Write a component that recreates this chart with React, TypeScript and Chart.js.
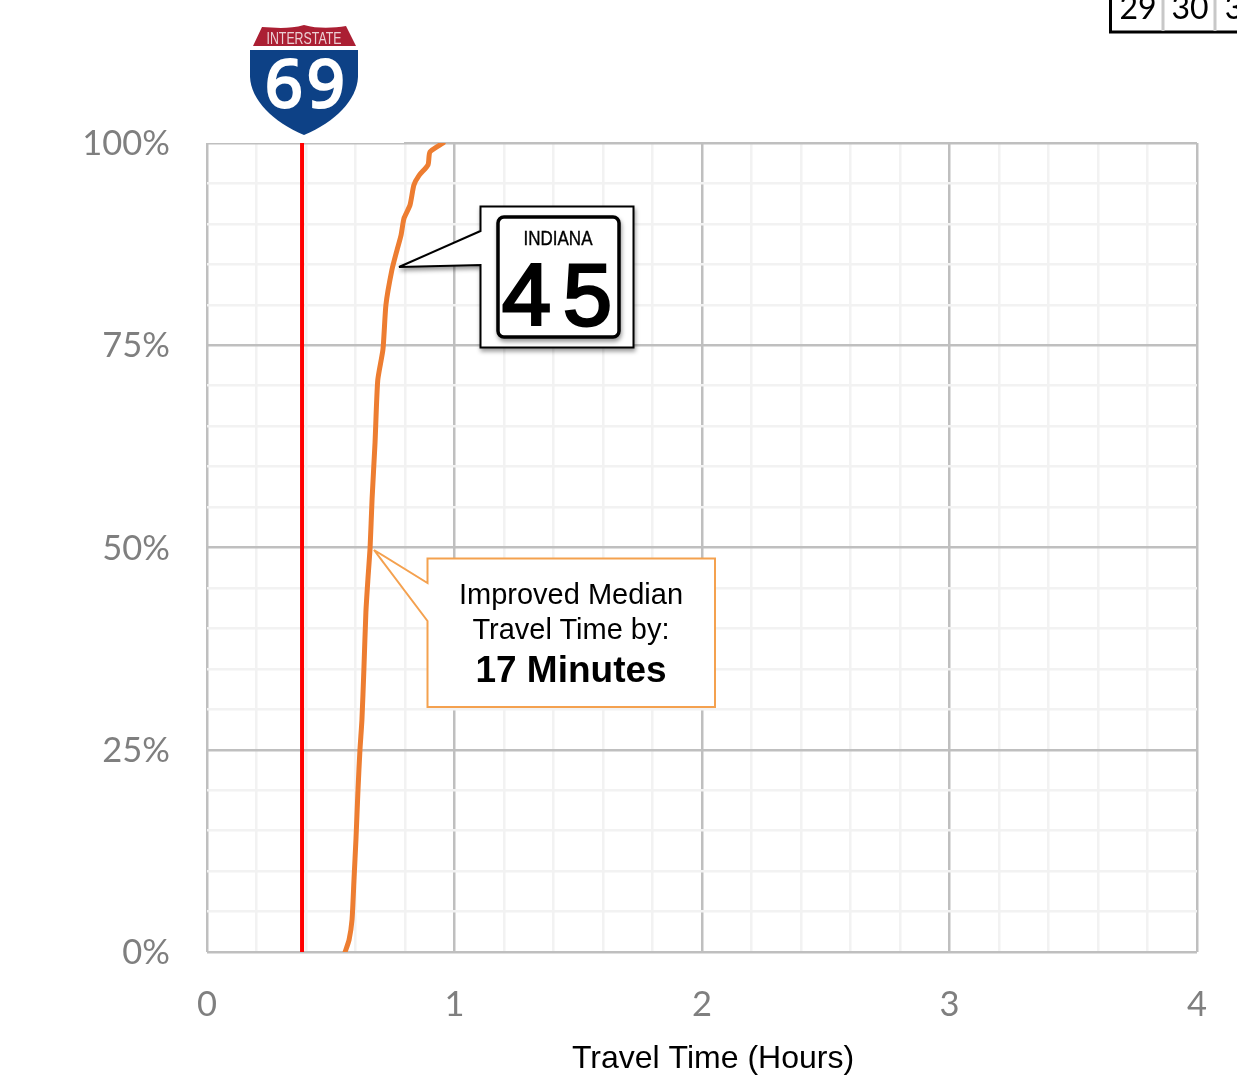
import React, { useEffect, useRef } from "react";
import { Chart, registerables } from "chart.js";

Chart.register(...registerables);

const TICK_FONT = "Lato, 'Open Sans', sans-serif";
const ARIAL = "'Liberation Sans', Arial, sans-serif";
const NARROW = "'Liberation Sans Narrow', 'Liberation Sans', sans-serif";

const i45Hours = [0.558, 0.574, 0.586, 0.594, 0.602, 0.61, 0.618, 0.626, 0.634, 0.642, 0.65, 0.659, 0.667, 0.679, 0.69, 0.711, 0.723, 0.747, 0.768, 0.784, 0.796, 0.82, 0.836, 0.857, 0.893, 0.901, 0.954];
const i45Percent = [0, 1.5, 4, 9, 14, 20, 25, 28.7, 35, 42, 46, 50, 56, 63, 70.7, 74.5, 80, 84.3, 86.8, 88.6, 90.7, 92.3, 94.8, 96, 97.3, 98.9, 100];
const i69Hours = [0.384, 0.384];
const i69Percent = [0, 100];
const tableCells = ["29", "30", "3"];
const tableCellCentres = [1138, 1190, 1234];

const isWhole = (v: number, step: number) => Math.abs(v / step - Math.round(v / step)) < 1e-6;

const nudge = {
  id: "nudge",
  afterLayout(chart: any) {
    chart.scales.x.right += 22;
  },
  beforeDraw(chart: any) {
    chart.scales.y.getLabelItems(chart.chartArea).forEach((item: any) => {
      if (!item.__moved) {
        item.textOffset += 1;
        item.__moved = true;
      }
    });
  },
};

export default function App() {
  const ref = useRef<HTMLCanvasElement | null>(null);
  useEffect(() => {
    if (!ref.current) return;
    const chart = new Chart(ref.current, {
      type: "scatter",
      data: {
        datasets: [
          {
            label: "I-69",
            data: i69Hours.map((x, i) => ({ x, y: i69Percent[i] })),
            showLine: true,
            borderColor: "#ff0000",
            borderWidth: 4,
            pointRadius: 0,
          },
          {
            label: "Indiana 45",
            data: i45Hours.map((x, i) => ({ x, y: i45Percent[i] })),
            showLine: true,
            borderColor: "#ed7d31",
            borderWidth: 5,
            borderCapStyle: "round",
            borderJoinStyle: "round",
            tension: 0.2,
            pointRadius: 0,
          },
        ],
      },
      options: {
        responsive: false,
        animation: false,
        layout: { padding: { top: 143, right: 40, left: 0, bottom: 0 } },
        plugins: { legend: { display: false }, tooltip: { enabled: false } },
        scales: {
          x: {
            type: "linear",
            min: 0,
            max: 4,
            afterFit: (s: any) => { s.height = 133; s.paddingRight = 0; s.paddingLeft = 0; },
            border: { display: false },
            grid: {
              drawTicks: false,
              lineWidth: 2.5,
              color: (c: any) => (isWhole(c.tick.value, 1) ? "#bfbfbf" : "#f2f2f2"),
            },
            ticks: {
              stepSize: 0.2,
              autoSkip: false,
              maxRotation: 0,
              padding: 32,
              color: "#7f7f7f",
              font: { family: TICK_FONT, size: 34.5 },
              callback: (v: any) => (isWhole(Number(v), 1) ? String(Math.round(Number(v))) : ""),
            },
            title: {
              display: true,
              text: "Travel Time (Hours)",
              color: "#000000",
              font: { family: ARIAL, size: 32 },
              padding: { top: 0, bottom: 7 },
            },
          },
          y: {
            type: "linear",
            min: 0,
            max: 100,
            afterFit: (s: any) => { s.width = 207; },
            border: { display: false },
            grid: {
              drawTicks: false,
              lineWidth: 2.5,
              color: (c: any) => (isWhole(c.tick.value, 25) ? "#bfbfbf" : "#f2f2f2"),
            },
            ticks: {
              stepSize: 5,
              autoSkip: false,
              padding: 37,
              color: "#7f7f7f",
              font: { family: TICK_FONT, size: 34.5 },
              callback: (v: any) => (isWhole(Number(v), 25) ? `${Math.round(Number(v))}%` : ""),
            },
          },
        },
      },
      plugins: [nudge],
    } as any);
    return () => chart.destroy();
  }, []);

  return (
    <div style={{ position: "fixed", left: 0, top: 0, width: 1237, height: 1085, overflow: "hidden", background: "#fff" }}>
      <canvas ref={ref} width={1237} height={1085} style={{ display: "block", position: "absolute", left: 0, top: 0 }} />
      <svg width={1237} height={1085} style={{ position: "absolute", left: 0, top: 0 }}>
        <defs>
          <filter id="soft" x="-10%" y="-10%" width="120%" height="120%">
            <feDropShadow dx="1" dy="3" stdDeviation="2" floodColor="#000" floodOpacity="0.4" />
          </filter>
        </defs>

        {/* pale top edge under the shield picture */}
        <rect x={206} y={141} width={198} height={2} fill="#fff" />

        {/* clipped table */}
        <path d="M1110.5 0V32H1237" fill="none" stroke="#000" strokeWidth={3} />
        <path d="M1163 0V31M1215 0V31" stroke="#c8c8c8" strokeWidth={3} />
        {tableCells.map((t, i) => (
          <text key={t} x={tableCellCentres[i]} y={19} fontFamily={TICK_FONT} fontSize={32} fill="#000" textAnchor="middle">{t}</text>
        ))}

        {/* interstate shield */}
        <path d="M253 46L262 27C276 28 290 29 304 25C318 29 334 28 346 26L356 46Z" fill="#ab1f33" />
        <path d="M250 50H358L358 77C357 100 335 122 304 135C273 122 251 100 250 77Z" fill="#0d4186" />
        <text x={304} y={44} fontFamily={NARROW} fontSize={17} fill="#ecd0d4" textAnchor="middle" textLength={75} lengthAdjust="spacingAndGlyphs">INTERSTATE</text>
        <text x="265 307" y={107} fontFamily="'Open Sans', sans-serif" fontSize={66} fill="#fff" stroke="#fff" strokeWidth={3}>69</text>

        {/* Indiana 45 callout */}
        <path d="M480.5 206.5H633.5V347.5H480.5V265L399 267L480.5 231Z" fill="#fff" stroke="#000" strokeWidth={2} filter="url(#soft)" />
        <rect x={498} y={217} width={121} height={120} rx={6} fill="#fff" stroke="#000" strokeWidth={3.5} filter="url(#soft)" />
        <text x={558} y={245} fontFamily={NARROW} fontSize={21} fill="#000" stroke="#000" strokeWidth={0.4} textAnchor="middle" textLength={69} lengthAdjust="spacingAndGlyphs">INDIANA</text>
        <text x="502 563" y={325} fontFamily={ARIAL} fontSize={88} fill="#000" stroke="#000" strokeWidth={3}>45</text>

        {/* median callout */}
        <path d="M427.5 558.5H715V707H427.5V621L374 550L427.5 583Z" fill="#fff" stroke="#f4a14f" strokeWidth={2} />
        <text x={571} y={604} fontFamily={ARIAL} fontSize={29} fill="#000" textAnchor="middle">Improved Median</text>
        <text x={571} y={639} fontFamily={ARIAL} fontSize={29} fill="#000" textAnchor="middle">Travel Time by:</text>
        <text x={571} y={682} fontFamily={ARIAL} fontWeight={700} fontSize={37} fill="#000" textAnchor="middle">17 Minutes</text>
      </svg>
    </div>
  );
}
